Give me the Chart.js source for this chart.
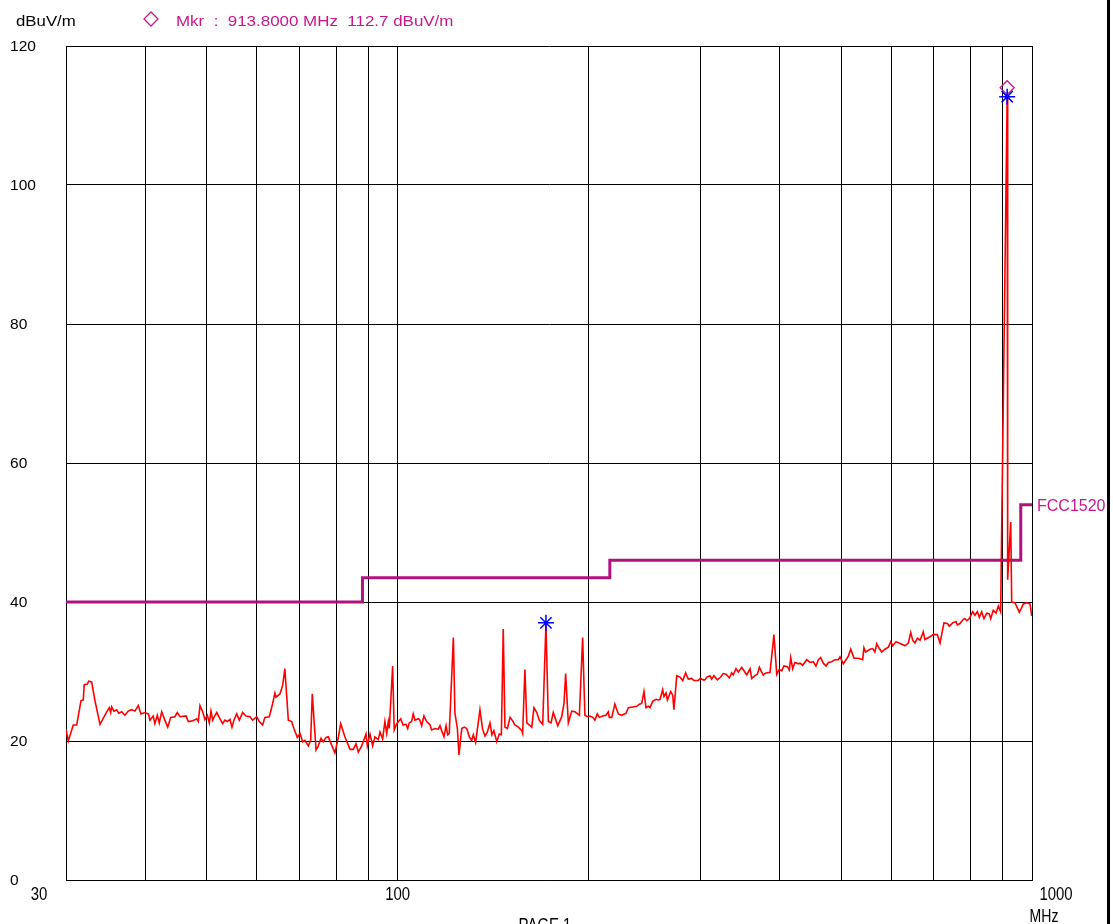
<!DOCTYPE html>
<html>
<head>
<meta charset="utf-8">
<title>Radiated emission scan</title>
<script src="https://cdn.jsdelivr.net/npm/chart.js@4.4.0/dist/chart.umd.min.js"></script>
<style>
  html, body { margin: 0; padding: 0; background: #fff; }
  #wrap { position: relative; width: 1113px; height: 924px; overflow: hidden; }
  #edge { position: absolute; left: 1107px; top: 0; width: 3px; height: 924px; background: #000; }
</style>
</head>
<body>
<div id="wrap">
  <canvas id="scanChart" width="1113" height="924"></canvas>
  <div id="edge"></div>
</div>
<script>
// measured trace (MHz / dBuV/m)
const freqMHz = [
  30.00, 30.25, 30.80, 31.19, 31.68, 31.94, 32.05, 32.41, 32.58, 32.93, 33.31, 33.94, 34.27, 34.78, 35.10, 35.28,
  35.41, 35.70, 36.06, 36.32, 36.72, 37.15, 37.61, 38.07, 38.52, 39.00, 39.38, 39.95, 40.45, 40.69, 41.17, 41.42,
  41.79, 42.09, 42.46, 42.95, 43.40, 43.87, 44.54, 44.94, 45.38, 46.38, 46.77, 47.51, 48.22, 48.50, 48.79, 49.27,
  49.67, 50.11, 50.47, 50.78, 51.09, 51.32, 51.85, 52.47, 52.98, 53.41, 53.88, 54.41, 54.80, 55.19, 55.75, 56.28,
  56.96, 57.67, 58.50, 59.07, 59.95, 60.51, 61.25, 61.75, 62.75, 63.52, 64.04, 64.30, 65.24, 65.87, 66.40, 67.24,
  68.06, 68.62, 69.47, 70.15, 70.83, 71.41, 72.30, 72.92, 73.34, 74.35, 74.97, 75.70, 76.32, 77.10, 77.74, 78.70,
  79.62, 80.62, 81.31, 82.56, 84.11, 85.10, 85.97, 86.69, 87.75, 89.15, 89.57, 90.44, 91.32, 92.06, 93.21, 93.79,
  94.69, 95.47, 96.10, 96.66, 97.01, 98.19, 98.75, 99.66, 101.1, 102.0, 103.1, 103.7, 104.3, 105.2, 105.8, 106.5,
  107.8, 108.4, 109.1, 110.0, 111.1, 112.5, 113.1, 114.5, 115.9, 116.6, 117.3, 118.3, 119.2, 119.9, 120.6, 122.4,
  123.1, 124.2, 124.9, 126.2, 127.3, 128.5, 129.7, 130.8, 131.6, 132.7, 133.5, 134.8, 136.1, 137.3, 138.5, 139.8,
  140.8, 141.8, 143.3, 144.6, 145.7, 146.7, 147.6, 148.9, 150.4, 151.8, 153.0, 155.0, 156.9, 157.4, 158.7, 159.8,
  161.3, 162.7, 164.0, 165.7, 167.2, 169.3, 171.3, 172.8, 174.5, 175.9, 177.0, 178.8, 181.4, 182.9, 184.0, 185.8,
  188.1, 190.3, 193.4, 195.7, 197.3, 199.1, 201.0, 203.0, 204.6, 206.4, 207.9, 210.5, 213.0, 214.8, 215.6, 217.5,
  220.0, 222.8, 225.5, 229.1, 231.0, 234.7, 238.2, 240.4, 242.5, 244.5, 246.3, 248.4, 249.9, 252.4, 255.4, 257.6,
  259.2, 261.7, 262.9, 264.9, 266.2, 269.4, 271.4, 272.6, 275.4, 278.7, 281.4, 284.4, 287.2, 290.7, 293.1, 297.8,
  299.7, 303.2, 305.0, 307.1, 310.8, 312.6, 315.2, 319.1, 323.0, 326.0, 329.4, 333.3, 336.2, 338.1, 341.5, 344.4,
  348.6, 351.5, 355.1, 359.3, 361.5, 365.8, 369.0, 371.7, 374.9, 377.0, 380.8, 386.4, 391.9, 395.9, 399.6, 403.1,
  406.4, 411.4, 414.4, 416.5, 419.5, 422.9, 428.2, 430.8, 435.0, 441.5, 446.7, 452.0, 456.6, 460.4, 464.4, 468.7,
  473.5, 477.5, 483.3, 489.0, 495.1, 498.1, 501.2, 504.0, 509.2, 513.4, 517.9, 524.0, 532.4, 540.8, 543.3, 546.6,
  555.5, 560.8, 565.4, 569.2, 574.6, 579.5, 586.3, 593.7, 598.8, 603.1, 610.5, 620.9, 630.5, 638.4, 643.9, 648.5,
  653.8, 659.6, 666.0, 673.9, 677.9, 690.6, 698.8, 709.2, 716.2, 726.4, 735.5, 740.8, 749.8, 759.0, 762.6, 770.1,
  779.2, 783.9, 789.1, 796.6, 806.3, 812.9, 820.1, 826.0, 833.1, 840.0, 848.5, 856.5, 860.8, 868.9, 877.7, 885.0,
  892.4, 913.8, 915.5, 925.7, 929.0, 939.9, 955.1, 968.8, 981.1, 992.9, 999.0
];
const levelDb = [
  21.7, 20.0, 22.3, 22.3, 25.8, 25.9, 28.1, 28.2, 28.6, 28.5, 25.9, 22.4, 23.1, 24.2, 24.8, 24.1,
  24.9, 24.3, 24.5, 24.0, 24.2, 23.7, 24.3, 24.5, 24.3, 25.1, 23.9, 24.1, 23.9, 23.0, 23.6, 22.5,
  23.7, 22.6, 24.2, 23.0, 22.0, 23.4, 23.5, 24.1, 23.5, 23.6, 22.8, 22.9, 23.2, 22.8, 25.1, 24.2,
  23.1, 23.7, 22.6, 24.3, 23.0, 23.4, 24.1, 23.2, 22.5, 23.0, 22.8, 23.1, 22.0, 23.0, 23.9, 23.0,
  24.1, 23.6, 23.5, 23.0, 23.5, 22.8, 22.3, 23.4, 23.5, 25.4, 26.9, 26.3, 26.8, 28.0, 30.4, 23.0,
  22.8, 21.8, 20.5, 21.1, 19.9, 20.1, 19.3, 20.1, 26.8, 18.7, 19.3, 20.4, 19.9, 20.5, 20.6, 19.4,
  18.3, 20.5, 22.5, 20.6, 18.8, 18.8, 19.6, 18.4, 19.3, 21.0, 19.3, 21.0, 19.3, 20.6, 20.2, 21.3,
  20.3, 22.8, 21.1, 22.8, 21.8, 30.8, 21.6, 22.5, 23.2, 22.3, 22.4, 21.8, 22.6, 22.8, 23.9, 23.0,
  23.2, 23.0, 22.2, 23.6, 22.8, 22.3, 21.6, 21.8, 21.7, 22.2, 21.5, 20.6, 22.2, 20.9, 21.1, 34.9,
  24.0, 21.8, 18.0, 21.8, 22.0, 21.8, 20.6, 20.1, 20.9, 19.8, 21.6, 24.5, 21.7, 20.7, 21.3, 22.6,
  20.9, 21.5, 19.9, 21.0, 20.9, 36.1, 22.0, 21.8, 23.4, 22.9, 22.3, 22.0, 21.5, 21.1, 30.3, 22.6,
  22.3, 22.0, 24.8, 24.1, 23.0, 22.4, 36.9, 22.8, 22.6, 24.1, 23.4, 22.2, 23.5, 25.4, 29.7, 22.6,
  24.3, 24.2, 23.7, 34.9, 23.7, 23.5, 23.6, 23.4, 23.0, 23.9, 23.4, 23.6, 23.7, 24.2, 23.4, 23.4,
  25.3, 23.9, 23.7, 24.0, 24.8, 24.9, 25.0, 25.3, 25.4, 27.1, 24.8, 25.0, 24.8, 25.7, 26.0, 25.9,
  26.0, 27.4, 26.4, 26.9, 25.9, 27.1, 26.6, 24.5, 29.4, 29.2, 28.7, 29.8, 28.9, 29.0, 28.7, 28.7,
  29.0, 28.8, 28.8, 29.2, 29.4, 28.9, 29.4, 28.8, 29.2, 29.7, 29.6, 29.1, 29.8, 29.5, 30.4, 29.9,
  30.6, 30.1, 29.5, 30.4, 29.0, 29.4, 29.6, 30.6, 29.9, 29.5, 29.8, 29.9, 35.3, 29.6, 30.3, 30.1,
  30.8, 30.7, 30.2, 32.0, 30.4, 31.3, 31.1, 31.2, 30.9, 31.7, 31.3, 31.4, 30.8, 31.7, 32.0, 31.2,
  30.8, 31.3, 31.4, 31.7, 31.7, 32.1, 31.6, 31.1, 31.7, 32.2, 33.2, 31.9, 31.9, 31.7, 33.4, 32.8,
  33.2, 33.3, 32.8, 34.0, 33.3, 32.8, 33.2, 33.5, 34.3, 33.7, 34.3, 34.0, 33.7, 34.1, 35.6, 34.5,
  34.1, 34.8, 34.5, 35.7, 34.6, 35.0, 35.3, 35.3, 34.1, 37.0, 36.9, 36.5, 37.0, 37.2, 36.7, 36.9,
  37.5, 37.6, 37.3, 37.6, 38.6, 38.1, 38.6, 37.8, 38.6, 37.6, 38.4, 38.3, 37.6, 38.8, 38.4, 39.4,
  38.6, 112.7, 43.2, 51.5, 40.0, 39.9, 38.5, 39.7, 39.9, 39.7, 38.0
];

// limit line FCC 15.209 (stepped)
const limitFreq = [30, 88, 88, 216, 216, 960, 960, 1000];
const limitLevel = [40, 40, 43.5, 43.5, 46, 46, 54, 54];

// peak markers
const peakFreq = [171.3, 913.8];
const peakLevel = [37.0, 112.7];
const mkrFreq = [913.8];
const mkrLevel = [114.0];

// grid / labels
const xGridMHz = [30, 40, 50, 60, 70, 80, 90, 100, 200, 300, 400, 500, 600, 700, 800, 900, 1000];
const yTicks = [0, 20, 40, 60, 80, 100, 120];
const xLabels = [30, 100, 1000];

const TRACE_RED = '#ff0000';
const LIMIT_MAGENTA = '#b0137f';
const TEXT_MAGENTA = '#c8168c';
const FONT = '"Liberation Sans", Arial, sans-serif';

function toPoints(xs, ys) {
  return xs.map((x, i) => ({ x: x, y: ys[i] }));
}

// the plotter output uses stretched glyphs, so squeeze/widen text horizontally
function drawStretched(ctx, str, x, y, size, color, sx, align) {
  ctx.save();
  ctx.font = size + 'px ' + FONT;
  ctx.fillStyle = color;
  ctx.textBaseline = 'alphabetic';
  ctx.textAlign = 'left';
  const w = ctx.measureText(str).width * sx;
  let left = x;
  if (align === 'center') left = x - w / 2;
  if (align === 'right') left = x - w;
  ctx.translate(left, y);
  ctx.scale(sx, 1);
  ctx.fillText(str, 0, 0);
  ctx.restore();
}

const labelsPlugin = {
  id: 'plotterLabels',
  afterDraw(chart) {
    const ctx = chart.ctx;
    const xs = chart.scales.x;
    const ys = chart.scales.y;

    // y tick labels
    yTicks.forEach(v => {
      drawStretched(ctx, String(v), 10, ys.getPixelForValue(v) + 5, 14, '#000', 1.11, 'left');
    });

    // x labels (end labels sit outside the frame like the plotter does)
    xLabels.forEach((v, i) => {
      let cx = xs.getPixelForValue(v);
      if (i === 0) cx -= 27;
      if (i === xLabels.length - 1) cx += 24;
      drawStretched(ctx, String(v), cx, 900, 18, '#000', 0.83, 'center');
    });
    drawStretched(ctx, 'MHz', xs.getPixelForValue(1000) + 12, 922, 18, '#000', 0.78, 'center');
    drawStretched(ctx, 'PAGE 1', 545, 931, 18, '#000', 0.83, 'center');

    // header
    drawStretched(ctx, 'dBuV/m', 16, 26, 14, '#000', 1.2, 'left');
    ctx.save();
    ctx.strokeStyle = TEXT_MAGENTA;
    ctx.lineWidth = 1.3;
    ctx.beginPath();
    ctx.moveTo(151, 12);
    ctx.lineTo(158, 19);
    ctx.lineTo(151, 26);
    ctx.lineTo(144, 19);
    ctx.closePath();
    ctx.stroke();
    ctx.restore();
    drawStretched(ctx, 'Mkr  :  913.8000 MHz  112.7 dBuV/m', 176, 26, 14, TEXT_MAGENTA, 1.21, 'left');

    // limit line name
    drawStretched(ctx, 'FCC1520', xs.getPixelForValue(1000) + 5,
      ys.getPixelForValue(limitLevel[limitLevel.length - 1]) + 6, 16, TEXT_MAGENTA, 1.0, 'left');
  }
};

new Chart(document.getElementById('scanChart'), {
  type: 'scatter',
  data: {
    datasets: [
      {
        label: 'Peak',
        data: toPoints(peakFreq, peakLevel),
        pointStyle: 'star',
        pointRadius: 8,
        borderColor: '#0000ff',
        borderWidth: 1.5,
        backgroundColor: '#0000ff',
        showLine: false
      },
      {
        label: 'Mkr',
        data: toPoints(mkrFreq, mkrLevel),
        pointStyle: 'rectRot',
        pointRadius: 7,
        borderColor: TEXT_MAGENTA,
        borderWidth: 1.3,
        backgroundColor: 'rgba(0,0,0,0)',
        showLine: false
      },
      {
        label: 'Trace',
        data: toPoints(freqMHz, levelDb),
        showLine: true,
        borderColor: TRACE_RED,
        borderWidth: 1.6,
        pointRadius: 0,
        tension: 0
      },
      {
        label: 'FCC15209',
        data: toPoints(limitFreq, limitLevel),
        showLine: true,
        borderColor: LIMIT_MAGENTA,
        borderWidth: 3,
        pointRadius: 0,
        tension: 0
      }
    ]
  },
  options: {
    responsive: false,
    animation: false,
    devicePixelRatio: 1,
    layout: { padding: { left: 66, top: 46, right: 81, bottom: 44 } },
    plugins: {
      legend: { display: false },
      tooltip: { enabled: false }
    },
    scales: {
      x: {
        type: 'logarithmic',
        min: 30,
        max: 1000,
        afterBuildTicks: (scale) => { scale.ticks = xGridMHz.map(v => ({ value: v })); },
        ticks: { display: false },
        grid: { color: '#000', lineWidth: 1, drawTicks: false, tickLength: 0 },
        border: { display: true, color: '#000', width: 1 }
      },
      y: {
        type: 'linear',
        min: 0,
        max: 120,
        afterBuildTicks: (scale) => { scale.ticks = yTicks.map(v => ({ value: v })); },
        ticks: { display: false },
        grid: { color: '#000', lineWidth: 1, drawTicks: false, tickLength: 0 },
        border: { display: true, color: '#000', width: 1 }
      }
    }
  },
  plugins: [labelsPlugin]
});
</script>
</body>
</html>
